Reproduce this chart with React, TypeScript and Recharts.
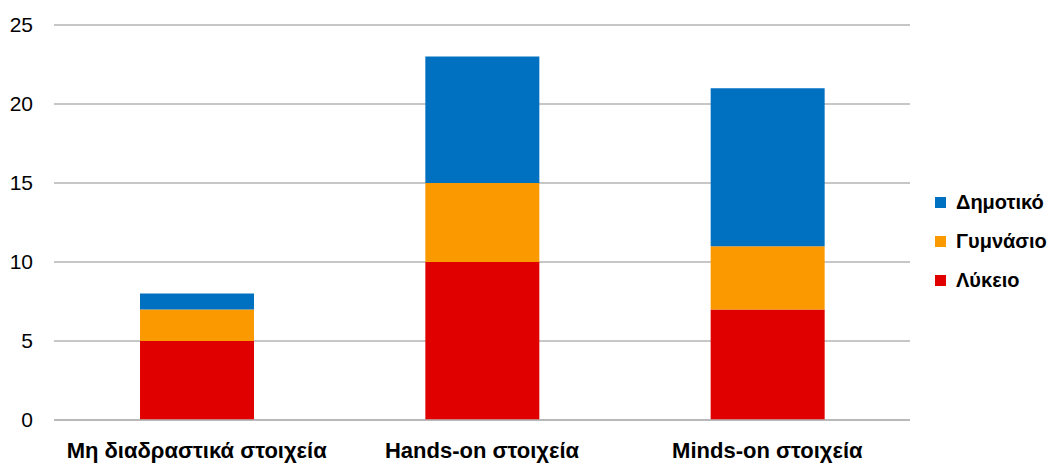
import { BarChart, Bar, XAxis, YAxis, CartesianGrid } from "recharts";

// categories and values per school level
const categories = ["Μη διαδραστικά στοιχεία", "Hands-on στοιχεία", "Minds-on στοιχεία"];
const lykeio = [5, 10, 7];
const gymnasio = [2, 5, 4];
const dimotiko = [1, 8, 10];
const yTicks = [0, 5, 10, 15, 20, 25];

const series = [
  { key: "lykeio", name: "Λύκειο", color: "#E00000" },
  { key: "gymnasio", name: "Γυμνάσιο", color: "#FA9A00" },
  { key: "dimotiko", name: "Δημοτικό", color: "#0070C0" },
];

const data = categories.map((c, i) => ({
  name: c,
  lykeio: lykeio[i],
  gymnasio: gymnasio[i],
  dimotiko: dimotiko[i],
}));

const font = "'Liberation Sans', Arial, sans-serif";

export default function App() {
  return (
    <div style={{ position: "absolute", left: 0, top: 0, width: 1059, height: 466, background: "#fff", fontFamily: font }}>
      <BarChart
        width={1059}
        height={466}
        data={data}
        margin={{ top: 25, right: 149, bottom: 0, left: 0 }}
        barCategoryGap={0}
      >
        <CartesianGrid vertical={false} stroke="#b4b4b4" strokeWidth={1.3} />
        <XAxis
          dataKey="name"
          height={46}
          axisLine={{ stroke: "#b4b4b4", strokeWidth: 1.3 }}
          tickLine={false}
          tickMargin={16}
          tick={{ fontSize: 22, fontWeight: "bold", fill: "#000", fontFamily: font }}
          interval={0}
        />
        <YAxis
          width={54}
          domain={[0, 25]}
          ticks={yTicks}
          axisLine={false}
          tickLine={false}
          tickMargin={15}
          tick={{ fontSize: 21, fill: "#000", fontFamily: font }}
        />
        {series.map((s) => (
          <Bar key={s.key} dataKey={s.key} name={s.name} stackId="a" fill={s.color} barSize={114} isAnimationActive={false} />
        ))}
      </BarChart>
      {/* legend on the right, top item is the top of the stack */}
      <div style={{ position: "absolute", left: 935, top: 183 }}>
        {[...series].reverse().map((s) => (
          <div key={s.key} style={{ display: "flex", alignItems: "center", height: 39 }}>
            <div style={{ width: 11, height: 11, background: s.color, marginRight: 10 }} />
            <span style={{ fontSize: 20, fontWeight: "bold", color: "#000" }}>{s.name}</span>
          </div>
        ))}
      </div>
    </div>
  );
}
